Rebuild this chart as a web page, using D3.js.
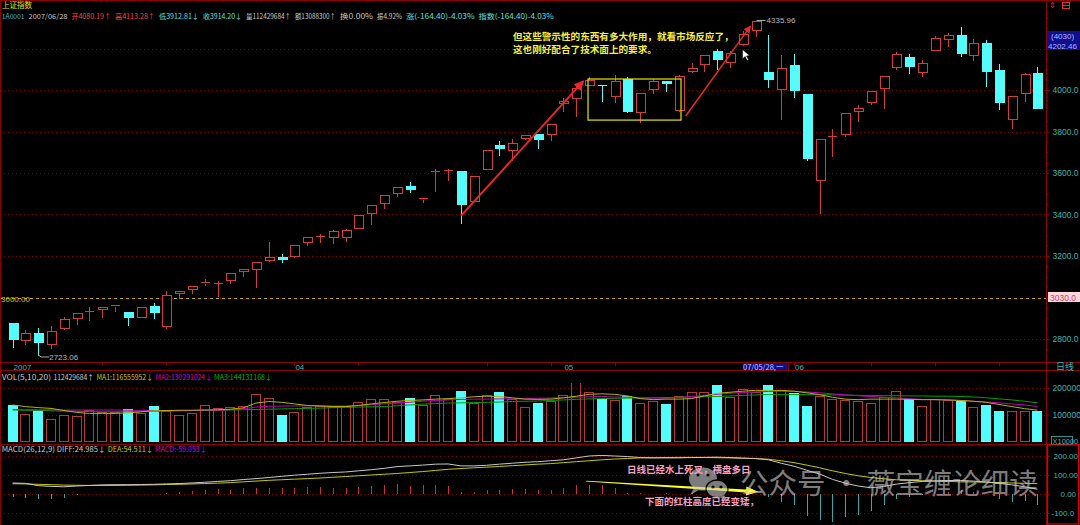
<!DOCTYPE html>
<html><head><meta charset="utf-8">
<script src="https://cdn.jsdelivr.net/npm/d3@7"></script>
<style>
html,body{margin:0;padding:0;background:#000;overflow:hidden}
svg{display:block}
text{font-family:"Liberation Sans",Arial,sans-serif}
.cjk{font-family:"Noto Sans CJK SC","Noto Sans",sans-serif}
</style></head><body><svg id="c" width="1080" height="525"></svg>
<script>
// ---------------- DATA ----------------
const openP  = [2878,2794,2827,2775,2852,2902,2933,2945,2957,2931,2905,2961,2865,3024,3042,3071,3069,3082,3127,3138,3181,3196,3198,3267,3296,3290,3292,3333,3406,3454,3502,3537,3477,3610,3613,3611,3463,3618,3735,3709,3769,3788,3788,3937,3960,4024,4026,3971,4053,3892,4005,4042,3905,4090,4124,4186,4135,4220,4291,4085,4005,4119,3979,3566,3777,3786,3899,3942,4010,4109,4157,4085,4191,4246,4267,4167,4226,4098,3860,3986,4080.19];
const highP  = [2880,2846,2860,2867,2910,2927,2960,2958,2966,2937,2953,2979,3037,3031,3058,3096,3085,3121,3140,3175,3271,3216,3255,3294,3312,3328,3335,3399,3447,3495,3533,3563,3484,3622,3626,3616,3592,3712,3760,3769,3785,3788,3839,3966,4026,4069,4028,4079,4066,3987,4058,4050,4079,4135,4170,4204,4193,4291,4335.96,4271,4173,4178,3986,3769,3818,3890,3933,4000,4072,4190,4178,4149,4265,4278,4310,4252,4246,4130,3972,4088,4113.28];
const lowP   = [2761,2777,2723.06,2756,2846,2870,2891,2905,2934,2867,2905,2900,2854,2998,3021,3058,3008,3069,3104,3053,3175,3170,3197,3255,3266,3261,3274,3333,3353,3430,3489,3507,3462,3512,3565,3359,3463,3618,3688,3664,3764,3721,3757,3900,3876,4024,3949,3941,3892,3844,3986,3997,3897,4088,4093,4101,4111,4217,4260,4013,3860,3968,3661,3407,3684,3780,3851,3931,3912,4101,4082,4066,4191,4210,4162,4146,4021,3910,3818,3949,3912.81];
const closeP = [2798,2830,2785,2839,2897,2925,2937,2955,2965,2907,2952,2929,3013,3029,3056,3074,3072,3120,3138,3170,3196,3185,3253,3293,3298,3319,3324,3398,3446,3494,3532,3521,3480,3611,3616,3449,3585,3711,3720,3744,3783,3762,3838,3949,4008,4050,4021,4045,3900,3986,4045,4034,4066,4106,4169,4149,4178,4271,4331,4053,4106,4002,3672,3764,3778,3889,3913,3995,4069,4173,4114,4130,4251,4265,4178,4226,4090,3941,3971,4077,3914.20];
const volume = [136000,101000,117000,82000,97000,96000,118000,110000,110000,121000,104000,132000,114000,97000,106000,136000,125000,130000,132000,179000,162000,97000,110000,130000,132000,130000,132000,149000,158000,160000,147000,162000,136000,173000,158000,188000,143000,175000,184000,160000,127000,143000,152000,175000,223000,184000,158000,153000,169000,145000,152000,140000,169000,184000,184000,212000,166000,195000,184000,210000,191000,182000,132000,171000,158000,156000,152000,145000,166000,188000,158000,132000,158000,156000,153000,127000,136000,114000,114000,113000,112430];
const volMA5  = [136000,130000,126000,123000,115000,108000,104000,104000,104000,106000,110000,114000,115000,116000,116000,117000,118000,120000,125000,143000,149000,146000,140000,134000,132000,130000,130000,134000,140000,145000,150000,153000,155000,158000,160000,163000,167000,169000,168000,163000,158000,157000,158000,163000,169000,176000,178000,176000,170000,160000,156000,158000,158000,160000,170000,180000,184000,188000,191000,191000,191000,188000,182000,175000,165000,158000,156000,158000,158000,158000,157000,156000,156000,155000,153000,150000,146000,138000,130000,122000,116556];
const volMA10 = [119000,119000,118000,118000,117000,117000,117000,117000,117000,116000,116000,115000,115000,115000,115000,116000,116000,118000,122000,128000,131000,132000,132000,133000,133000,132000,132000,134000,137000,140000,143000,146000,150000,153000,155000,157000,158000,158000,159000,159000,160000,161000,162000,163000,165000,167000,168000,166000,165000,163000,162000,162000,164000,168000,172000,176000,180000,183000,185000,187000,188000,187000,185000,182000,178000,174000,171000,168000,165000,163000,160000,157000,156000,155000,153000,150000,147000,144000,140000,136000,130291];
const volMA20 = [117000,116000,115000,114000,113000,112000,111000,110000,110000,110000,111000,112000,113000,114000,115000,116000,116000,117000,118000,119000,120000,121000,122000,123000,124000,126000,127000,128000,129000,130000,133000,136000,139000,141000,143000,144000,145000,146000,147000,149000,150000,151000,153000,155000,157000,159000,160000,161000,162000,162000,163000,164000,165000,166000,167000,168000,170000,172000,174000,175000,175000,175000,175000,175000,174000,173000,172000,171000,171000,171000,170000,170000,169000,169000,168000,166000,163000,159000,155000,150000,144131];
const diffV = [58,56,44,40,38,42,45,48,49,49,50,51,53,55,58,62,66,70,76,81,87,93,99,104,109,113,116,122,128,135,144,148,152,157,158,148,148,151,157,162,167,170,175,180,190,200,203,200,197,192,190,190,190,192,193,194,192,189,187,180,162,146,125,105,77,57,42,33,40,52,60,66,69,71,71,68,63,56,48,38,24.985];
const deaV  = [54,53,51,49,47,46,45,45,45,46,47,48,50,51,53,55,57,60,64,68,72,75,78,81,84,88,92,96,100,104,108,113,118,124,130,134,138,141,145,149,153,157,160,165,170,175,180,184,187,190,191,192,193,193,192,191,190,188,186,183,175,165,152,138,122,108,96,87,80,75,72,70,68,66,64,63,62,60,58,56,54.511];
const macdV = [-14,-20,-27,-27,-20,-5,-2,-1,0.5,0.5,1,1,7,13,16,22,24,22,29,31,34,29,34,38,38,34,31,38,42,47,53,43,47,49,42,11,9,20,22,24,24,20,22,34,45,49,45,34,7,3,2,4,1,3,2,-2,1,3,2,-14,-42,-60,-118,-136,-147,-123,-110,-87,-56,-24,-14,-5,-2,13,22,13,-2,-27,-42,-38,-59.053];
const priceTicks = [2800,3000,3200,3400,3600,3800,4000,4200];
const priceLabelTicks = [2800,3200,3400,3600,3800,4000];
const volTicks = [100000,200000];
const macdTicks = [-100,0,100,200];
const monthLabels = ["2007","04","05","06"];
const monthIdx = [0,22,43,61];
const weekTickIdx = [7,12,22,27,37,42,47,57,61,67,72,77];

// ---------------- SETUP ----------------
const svg = d3.select("#c");
const N = closeP.length;
const RED="#d23c3c", VRED="#b43838", CYAN="#54fcfc", BORDER="#8c0000", GRID="#7a0000", TEAL="#3cb4b4";
const x = d3.scaleBand().domain(d3.range(N)).range([6.2,1043.8]);
const cx = i => x(i)+x.bandwidth()/2;
const xl = d3.scaleLinear().domain([0,N-1]).range([cx(0),cx(N-1)]);
const yP = d3.scaleLinear().domain([2800,4200]).range([339,48.5]);
const yV = d3.scaleLinear().domain([0,200000]).range([441,388]);
const yM = d3.scaleLinear().domain([-100,200]).range([513,456]);
const PX = 1046;

svg.append("rect").attr("width",1080).attr("height",525).attr("fill","#000");
const defs = svg.append("defs");
defs.append("clipPath").attr("id","cp").append("rect").attr("x",0).attr("y",8).attr("width",PX).attr("height",353);
defs.append("clipPath").attr("id","cv").append("rect").attr("x",0).attr("y",383).attr("width",PX).attr("height",60);
defs.append("clipPath").attr("id","cm").append("rect").attr("x",0).attr("y",452).attr("width",PX).attr("height",73);

// grid lines
const g = svg.append("g");
g.selectAll(".gp").data(priceTicks).join("line").attr("x1",0).attr("x2",PX)
  .attr("y1",d=>Math.round(yP(d))+0.5).attr("y2",d=>Math.round(yP(d))+0.5)
  .attr("stroke",GRID).attr("stroke-dasharray","1,3");
g.selectAll(".gv").data(volTicks).join("line").attr("x1",0).attr("x2",PX)
  .attr("y1",d=>Math.round(yV(d))+0.5).attr("y2",d=>Math.round(yV(d))+0.5)
  .attr("stroke",GRID).attr("stroke-dasharray","1,3");
g.selectAll(".gm").data(macdTicks).join("line").attr("x1",0).attr("x2",PX)
  .attr("y1",d=>Math.round(yM(d))+0.5).attr("y2",d=>Math.round(yM(d))+0.5)
  .attr("stroke",GRID).attr("stroke-dasharray","1,3");

// 3000 line
svg.append("line").attr("x1",0).attr("x2",PX).attr("y1",Math.round(yP(3000))+0.5).attr("y2",Math.round(yP(3000))+0.5)
  .attr("stroke","#b4b400").attr("stroke-dasharray","3,3");
svg.append("text").attr("x",1).attr("y",yP(3000)+4).attr("font-size",8).attr("fill","#c8c800").text("3000.00");

// panel borders
const B = svg.append("g").attr("stroke",BORDER).attr("shape-rendering","crispEdges");
B.append("line").attr("x1",0).attr("x2",1080).attr("y1",0.5).attr("y2",0.5);
B.append("line").attr("x1",0.5).attr("x2",0.5).attr("y1",0).attr("y2",525);
B.append("line").attr("x1",PX+0.5).attr("x2",PX+0.5).attr("y1",0).attr("y2",525);
B.append("line").attr("x1",0).attr("x2",1080).attr("y1",362.5).attr("y2",362.5);
B.append("line").attr("x1",0).attr("x2",1080).attr("y1",370.5).attr("y2",370.5);
B.append("line").attr("x1",0).attr("x2",1080).attr("y1",444.5).attr("y2",444.5);

// ---------------- CANDLES ----------------
const cg = svg.append("g").attr("clip-path","url(#cp)").attr("shape-rendering","crispEdges");
d3.range(N).forEach(i=>{
  const o=openP[i], c=closeP[i], h=highP[i], l=lowP[i];
  const up = c>=o;
  const col = i===32 ? "#ff3030" : (up?RED:CYAN);
  const xc = Math.round(cx(i))+0.5;
  const yt = Math.round(yP(Math.max(o,c)))+0.5, yb = Math.round(yP(Math.min(o,c)))+0.5;
  const yh = Math.round(yP(h))+0.5, yl = Math.round(yP(l))+0.5;
  if(up){
    cg.append("line").attr("x1",xc).attr("x2",xc).attr("y1",yh).attr("y2",yt).attr("stroke",col);
    cg.append("line").attr("x1",xc).attr("x2",xc).attr("y1",yb).attr("y2",yl).attr("stroke",col);
    if(yb-yt<1.5){
      cg.append("line").attr("x1",xc-4.5).attr("x2",xc+4.5).attr("y1",yt).attr("y2",yt).attr("stroke",col);
    } else {
      cg.append("rect").attr("x",xc-4.5).attr("y",yt).attr("width",9).attr("height",yb-yt)
        .attr("fill","#000").attr("stroke",col);
    }
  } else {
    cg.append("line").attr("x1",xc).attr("x2",xc).attr("y1",yh).attr("y2",yl).attr("stroke",col);
    if(yb-yt<1.5){
      cg.append("line").attr("x1",xc-4.5).attr("x2",xc+4.5).attr("y1",yt).attr("y2",yt).attr("stroke",col);
    } else {
      cg.append("rect").attr("x",xc-4.5).attr("y",yt-0.5).attr("width",10).attr("height",yb-yt+1).attr("fill",col);
    }
  }
});

// high / low labels
const iMax = d3.maxIndex(highP), iMin = d3.minIndex(lowP);
svg.append("line").attr("x1",cx(iMax)+1).attr("x2",cx(iMax)+10).attr("y1",Math.round(yP(highP[iMax]))+0.5).attr("y2",Math.round(yP(highP[iMax]))+0.5).attr("stroke","#aaa");
svg.append("text").attr("x",cx(iMax)+11).attr("y",yP(highP[iMax])+3).attr("font-size",8).attr("fill","#b8b8b8").text(highP[iMax].toFixed(2));
svg.append("path").attr("d",`M${cx(iMin)},${yP(lowP[iMin])} L${cx(iMin)+3},${yP(lowP[iMin])+2} L${cx(iMin)+11},${yP(lowP[iMin])+2}`).attr("fill","none").attr("stroke","#aaa");
svg.append("text").attr("x",cx(iMin)+11).attr("y",yP(lowP[iMin])+5).attr("font-size",8).attr("fill","#b8b8b8").text(lowP[iMin].toFixed(2));

// ---------------- ANNOTATIONS (price) ----------------
defs.append("marker").attr("id","ah").attr("viewBox","0 0 10 10").attr("refX",9).attr("refY",5)
  .attr("markerWidth",5).attr("markerHeight",5).attr("orient","auto")
  .append("path").attr("d","M0,0 L10,5 L0,10 z").attr("fill","#e82828");
svg.append("line").attr("x1",xl(35)).attr("y1",yP(3393)).attr("x2",xl(44.56)).attr("y2",yP(4043))
  .attr("stroke","#e82828").attr("stroke-width",2).attr("marker-end","url(#ah)");
svg.append("line").attr("x1",xl(52.55)).attr("y1",yP(3875)).attr("x2",xl(57.6)).attr("y2",yP(4308))
  .attr("stroke","#e82828").attr("stroke-width",1.5).attr("marker-end","url(#ah)");
svg.append("rect").attr("x",xl(44.92)).attr("y",yP(4053)).attr("width",xl(52.18)-xl(44.92)).attr("height",yP(3855)-yP(4053))
  .attr("fill","none").attr("stroke","#e6e600").attr("stroke-width",1.2);
svg.append("text").attr("class","cjk").attr("x",513).attr("y",39.5).attr("font-size",9.6).attr("font-weight","bold").attr("fill","#f5f040")
  .text("但这些警示性的东西有多大作用，就看市场反应了，");
svg.append("text").attr("class","cjk").attr("x",513).attr("y",53).attr("font-size",9.6).attr("font-weight","bold").attr("fill","#f5f040")
  .text("这也刚好配合了技术面上的要求。");
// mouse cursor
svg.append("path").attr("d","M742.5,49.5 L742.5,59 L745,56.5 L747,60.5 L748.5,59.8 L746.5,56 L749.5,55.5 Z")
  .attr("fill","#fff").attr("stroke","#000").attr("stroke-width",0.5);

// ---------------- HEADER ----------------
svg.append("text").attr("class","cjk").attr("x",2).attr("y",7.5).attr("font-size",7.5).attr("fill","#e6e600").text("上证指数");
const hdr = [
  [1.8,"1A0001","#40b8c8"],[28.6,"2007/06/28","#c0c0c0"],[71.4,"开4080.19↑","#ff4040"],[115,"高4113.28↑","#ff4040"],
  [159,"低3912.81↓","#54e0e0"],[203,"收3914.20↓","#54e0e0"],[246,"量112429684↑","#c8c8c8"],[295,"额13088300↑","#c8c8c8"],
  [340,"换0.00%","#c8c8c8"],[377,"振4.92%","#c8c8c8"],[406,"涨(-164.40)-4.03%","#54e0e0"],[478.6,"指数(-164.40)-4.03%","#54e0e0"]];
const hdrEnd = hdr.map((d,k)=> k<hdr.length-1 ? hdr[k+1][0]-4 : 553.6);
svg.selectAll(".hd").data(hdr).join("text").attr("class","cjk").attr("x",d=>d[0]).attr("y",18.5).attr("font-size",7)
  .attr("fill",d=>d[2]).attr("textLength",(d,k)=>hdrEnd[k]-d[0]).attr("lengthAdjust","spacingAndGlyphs").text(d=>d[1]);
svg.append("text").attr("x",1049).attr("y",8).attr("font-size",8).attr("fill","#e03030").text("⇕");
svg.append("rect").attr("x",1062.5).attr("y",2.5).attr("width",7).attr("height",6).attr("fill","none").attr("stroke","#e03030");
svg.append("line").attr("x1",1062.5).attr("x2",1069.5).attr("y1",5.5).attr("y2",5.5).attr("stroke","#e03030");

// ---------------- RIGHT PRICE AXIS ----------------
const ax = svg.append("g").attr("transform",`translate(${PX+0.5},0)`)
  .call(d3.axisRight(yP).tickValues(priceTicks).tickSize(3).tickFormat(d=>priceLabelTicks.includes(d)?d.toFixed(1):""));
ax.select(".domain").remove();
ax.selectAll("line").attr("stroke","#8c0000");
ax.selectAll("text").attr("fill",TEAL).attr("font-size",8.5).attr("x",6).attr("font-family","Liberation Sans");
const axm = svg.append("g").attr("transform",`translate(${PX+0.5},0)`)
  .call(d3.axisRight(yP).tickValues(d3.range(2750,4400,50)).tickSize(2).tickFormat(""));
axm.select(".domain").remove(); axm.selectAll("line").attr("stroke","#8c0000");
// current value box
svg.append("rect").attr("x",1047).attr("y",31).attr("width",33).attr("height",19).attr("fill","#10108c");
svg.append("text").attr("x",1051).attr("y",39).attr("font-size",8).attr("fill","#b0b0ff").text("(4030)");
svg.append("text").attr("x",1048).attr("y",48.5).attr("font-size",8).attr("fill","#b0b0ff").text("4202.46");
svg.append("rect").attr("x",1048).attr("y",292).attr("width",32).attr("height",10).attr("fill","#ffd8e0");
svg.append("text").attr("x",1050).attr("y",300.5).attr("font-size",8.5).attr("fill","#e04060").text("3030.0");

// ---------------- DATE AXIS ----------------
svg.selectAll(".wt").data(weekTickIdx).join("line").attr("x1",i=>Math.round(cx(i))+0.5).attr("x2",i=>Math.round(cx(i))+0.5)
  .attr("y1",363).attr("y2",366).attr("stroke",BORDER);
svg.selectAll(".ml").data(monthLabels).join("text").attr("x",(d,k)=>cx(monthIdx[k])+1).attr("y",369.5)
  .attr("font-size",8).attr("fill",TEAL).text(d=>d);
svg.append("rect").attr("x",742.5).attr("y",363).attr("width",45).attr("height",7).attr("fill","#10108c");
svg.append("text").attr("class","cjk").attr("x",743).attr("y",369.5).attr("font-size",7.5).attr("fill","#b0c8ff").text("07/05/28,一");
svg.append("line").attr("x1",788.5).attr("x2",788.5).attr("y1",363).attr("y2",370).attr("stroke",BORDER);
svg.append("text").attr("class","cjk").attr("x",1056).attr("y",370).attr("font-size",9).attr("fill",TEAL).text("日线");

// ---------------- VOLUME ----------------
const vhdr = [[1.7,"VOL(5,10,20)","#c8c8c8"],[53.4,"112429684↑","#c8c8c8"],[96.4,"MA1:116555952↓","#c8c800"],[155.6,"MA2:130291024↓","#d000d0"],[214,"MA3:144131168↓","#00b400"]];
const vEnd = [51,94,153,212,272];
svg.selectAll(".vh").data(vhdr).join("text").attr("class","cjk").attr("x",d=>d[0]).attr("y",380).attr("font-size",7.3).attr("fill",d=>d[2])
  .attr("textLength",(d,k)=>vEnd[k]-d[0]).attr("lengthAdjust","spacingAndGlyphs").text(d=>d[1]);
const vg = svg.append("g").attr("clip-path","url(#cv)").attr("shape-rendering","crispEdges");
d3.range(N).forEach(i=>{
  const up = closeP[i]>=openP[i];
  const xc = Math.round(cx(i));
  const yt = Math.round(yV(volume[i]))+0.5;
  if(up) vg.append("rect").attr("x",xc-4.5).attr("y",yt).attr("width",9).attr("height",yV(0)-yt).attr("fill","none").attr("stroke",VRED);
  else vg.append("rect").attr("x",xc-5).attr("y",yt-0.5).attr("width",10).attr("height",yV(0)-yt+1).attr("fill",CYAN);
});
const lineV = arr => d3.line().x((d,i)=>cx(i)).y(d=>yV(d))(arr);
svg.append("path").attr("d",lineV(volMA20)).attr("fill","none").attr("stroke","#00a000");
svg.append("path").attr("d",lineV(volMA10)).attr("fill","none").attr("stroke","#c000c0");
svg.append("path").attr("d",lineV(volMA5)).attr("fill","none").attr("stroke","#b4b400");
const av = svg.append("g").attr("transform",`translate(${PX+0.5},0)`)
  .call(d3.axisRight(yV).tickValues(volTicks).tickSize(3).tickFormat(d3.format("d")));
av.select(".domain").remove(); av.selectAll("line").attr("stroke","#8c0000");
av.selectAll("text").attr("fill",TEAL).attr("font-size",8.5).attr("x",6);
svg.append("rect").attr("x",1051.5).attr("y",436.5).attr("width",21).attr("height",8).attr("fill","none").attr("stroke",TEAL).attr("stroke-width",0.8);
svg.append("text").attr("x",1052.5).attr("y",443.5).attr("font-size",7.5).attr("fill",TEAL).text("X1000");
svg.append("text").attr("x",1074).attr("y",443.5).attr("font-size",7.5).attr("fill",TEAL).text("0");

// ---------------- MACD ----------------
const mhdr = [[1.7,"MACD(26,12,9)","#c8c8c8"],[56.8,"DIFF:24.985↓","#c8c8c8"],[107.8,"DEA:54.511↓","#c8c800"],[155,"MACD:-59.053↓","#d000d0"]];
const mEnd = [55,105.5,153,206.6];
svg.selectAll(".mh").data(mhdr).join("text").attr("class","cjk").attr("x",d=>d[0]).attr("y",451.5).attr("font-size",7.3).attr("fill",d=>d[2])
  .attr("textLength",(d,k)=>mEnd[k]-d[0]).attr("lengthAdjust","spacingAndGlyphs").text(d=>d[1]);
const mg = svg.append("g").attr("clip-path","url(#cm)").attr("shape-rendering","crispEdges");
mg.selectAll("line").data(macdV).join("line").attr("x1",(d,i)=>Math.round(cx(i))+0.5).attr("x2",(d,i)=>Math.round(cx(i))+0.5)
  .attr("y1",yM(0)).attr("y2",d=>yM(d)).attr("stroke",d=>d>=0?"#c83040":"#30a8a8").attr("stroke-width",1.3);
const lineM = d3.line().x((d,i)=>cx(i)).y(d=>yM(d));
svg.append("path").attr("d",lineM(deaV)).attr("fill","none").attr("stroke","#c8c800");
svg.append("path").attr("d",lineM(diffV)).attr("fill","none").attr("stroke","#c8c8c8");
const am = svg.append("g").attr("transform",`translate(${PX+0.5},0)`)
  .call(d3.axisRight(yM).tickValues(macdTicks).tickSize(3).tickFormat(d=>d<0?d.toFixed(1):d.toFixed(2)));
am.select(".domain").remove(); am.selectAll("line").attr("stroke","#8c0000");
am.selectAll("text").attr("fill",TEAL).attr("font-size",8).attr("x",d=>d===0?14:(d<0?5:7));
svg.append("rect").attr("x",1047.5).attr("y",445).attr("width",31).attr("height",79).attr("fill","none").attr("stroke","#e00000").attr("stroke-width",1.2);

// MACD annotations
const p0=[xl(44.76),yM(68)], p1=[xl(58.2),yM(12)];
const ang=Math.atan2(p1[1]-p0[1],p1[0]-p0[0]);
const L=Math.hypot(p1[0]-p0[0],p1[1]-p0[1]);
const arrowPts=[[0,-0.4],[L-12,-1.6],[L-12,-4.5],[L,0],[L-12,4.5],[L-12,1.6],[0,0.4]]
  .map(([a,b])=>[p0[0]+a*Math.cos(ang)-b*Math.sin(ang), p0[1]+a*Math.sin(ang)+b*Math.cos(ang)]);
svg.append("polygon").attr("points",arrowPts.map(p=>p.join(",")).join(" ")).attr("fill","#ffff20");

// watermark
const wm = svg.append("g").attr("opacity",0.62);
wm.append("ellipse").attr("cx",703).attr("cy",479).attr("rx",14).attr("ry",11.5).attr("fill","#c8c8c8");
wm.append("path").attr("d","M694,488 L690,495 L699,490 Z").attr("fill","#c8c8c8");
wm.append("ellipse").attr("cx",717).attr("cy",489).attr("rx",11).attr("ry",9).attr("fill","#c8c8c8").attr("stroke","#000").attr("stroke-width",1.5);
wm.append("path").attr("d","M724,495 L728,501 L719,497 Z").attr("fill","#c8c8c8");
[[698,475],[708,475],[713,487],[721,487]].forEach(([a,b])=>wm.append("circle").attr("cx",a).attr("cy",b).attr("r",1.6).attr("fill","#000"));
wm.append("text").attr("class","cjk").attr("x",740).attr("y",494).attr("font-size",28.5).attr("fill","#c8c8c8").text("公众号 · 薇宝缠论细读");

svg.append("text").attr("class","cjk").attr("x",627).attr("y",472.5).attr("font-size",9.5).attr("font-weight","bold").attr("fill","#f8a0c4").text("日线已经水上死叉，横盘多日");
svg.append("text").attr("class","cjk").attr("x",645).attr("y",505).attr("font-size",9.5).attr("font-weight","bold").attr("fill","#f8a0c4").text("下面的红柱高度已经变矮，");
</script></body></html>
